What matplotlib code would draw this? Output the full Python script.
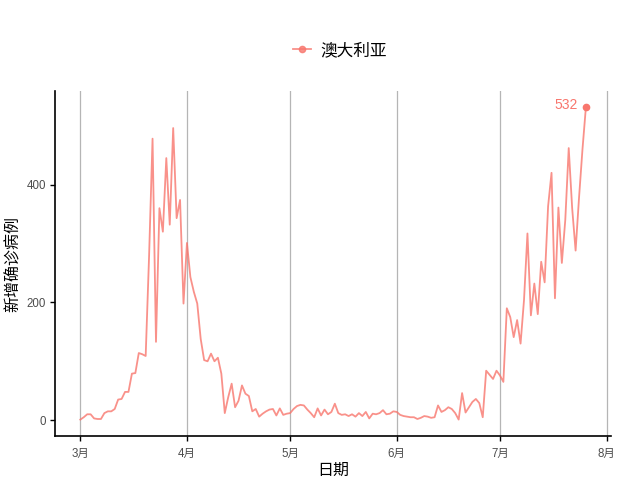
import numpy as np
import pandas as pd
import matplotlib
matplotlib.use("Agg")
import matplotlib.pyplot as plt

plt.rcParams['font.family'] = ['Liberation Sans', 'Noto Sans CJK SC', 'DejaVu Sans']

# daily new cases, Australia, 2020-03-01 .. 2020-07-26
country = "澳大利亚"
start_date = "2020-03-01"
new_cases = [
    1, 5, 10, 10, 3, 2, 2, 12, 15, 15,
    19, 35, 36, 48, 48, 79, 80, 114, 112, 109,
    280, 478, 133, 360, 320, 445, 332, 496, 343, 374,
    198, 301, 243, 218, 198, 138, 102, 100, 113, 100,
    106, 79, 12, 39, 62, 22, 33, 59, 45, 41,
    15, 19, 6, 11, 15, 18, 19, 8, 20, 9,
    11, 12, 19, 24, 26, 25, 18, 12, 5, 20,
    8, 18, 10, 14, 28, 12, 9, 10, 7, 10,
    6, 12, 7, 14, 3, 11, 10, 12, 17, 10,
    11, 15, 14, 9, 7, 6, 5, 5, 2, 4,
    7, 6, 4, 5, 25, 14, 17, 22, 19, 12,
    1, 46, 13, 22, 31, 36, 29, 5, 84, 77,
    70, 84, 76, 65, 190, 175, 141, 170, 130, 204,
    317, 178, 232, 180, 269, 234, 363, 420, 207, 361,
    267, 340, 462, 360, 288, 378, 460, 532,
]
month_ticks = ["2020-03-01", "2020-04-01", "2020-05-01",
               "2020-06-01", "2020-07-01", "2020-08-01"]
month_labels = ["3月", "4月", "5月", "6月", "7月", "8月"]
y_ticks = [0, 200, 400]

dates = pd.date_range(start_date, periods=len(new_cases), freq="D")
vals = np.array(new_cases)
col = "#F8766D"

fig = plt.figure(figsize=(6.4, 4.8), dpi=100)
ax = fig.add_axes([0.086, 0.092, 0.869, 0.718])

tick_dates = pd.to_datetime(month_ticks)
for t in tick_dates:
    ax.axvline(t, color="#B5B5B5", lw=0.9, zorder=0)

ax.plot(dates, vals, color=col, alpha=0.8, lw=1.3, zorder=2)
ax.plot(dates[-1], vals[-1], "o", color=col, ms=4.5, zorder=3)
ax.annotate(str(vals[-1]), (dates[-1], vals[-1]), xytext=(-6, 1),
            textcoords="offset points", ha="right", va="center",
            color=col, fontsize=10)

# ggplot-like 5% expansion
span = dates[-1] - dates[0]
ax.set_xlim(dates[0] - span * 0.05, dates[-1] + span * 0.05)
ax.set_ylim(-vals.max() * 0.05, vals.max() * 1.05)

ax.set_xticks(tick_dates)
ax.set_xticklabels(month_labels)
ax.set_yticks(y_ticks)

for s in ["top", "right"]:
    ax.spines[s].set_visible(False)
for s in ["left", "bottom"]:
    ax.spines[s].set_linewidth(1.2)
ax.tick_params(axis="both", length=3.5, width=1.0, color="black",
               labelsize=8.3, labelcolor="#4D4D4D")
ax.tick_params(axis="x", pad=5)
ax.tick_params(axis="y", pad=3)

ax.set_xlabel("日期", fontsize=11.5, labelpad=2)
ax.set_ylabel("新增确诊病例", fontsize=11.5, labelpad=4)

handle, = ax.plot([], [], color=col, alpha=0.8, lw=1.3, marker="o", ms=4.5)
fig.legend([handle], [country], loc="center", bbox_to_anchor=(0.531, 0.895),
           frameon=False, fontsize=12, handlelength=1.1, handletextpad=0.55)

fig.savefig("out.png", dpi=100, facecolor="white")
